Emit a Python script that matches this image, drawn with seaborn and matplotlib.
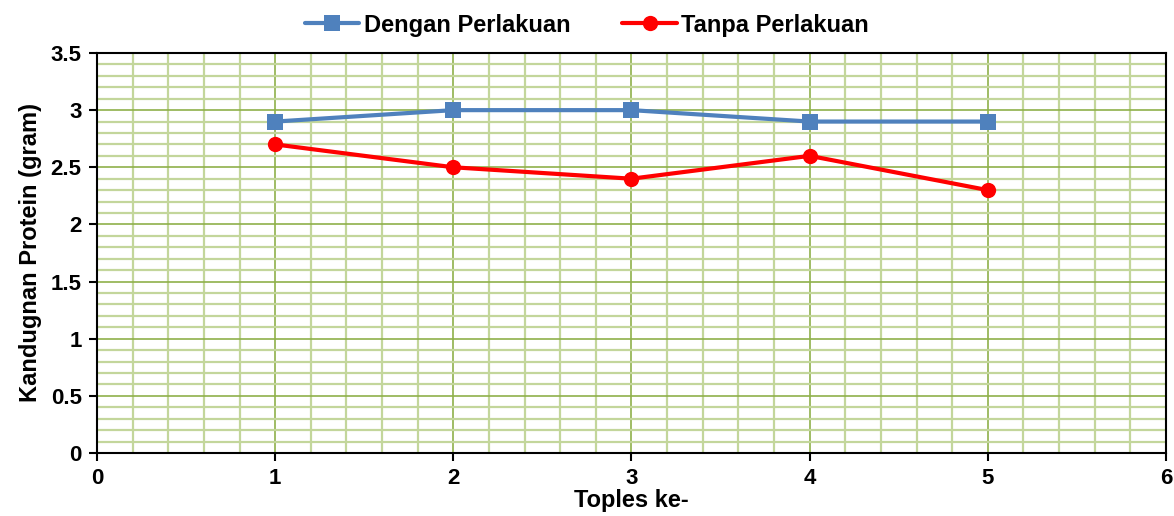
import matplotlib
matplotlib.use("Agg")
import matplotlib.pyplot as plt
import seaborn as sns
import pandas as pd
from matplotlib.ticker import FixedLocator

toples = [1, 2, 3, 4, 5]
dengan = [2.9, 3.0, 3.0, 2.9, 2.9]
tanpa = [2.7, 2.5, 2.4, 2.6, 2.3]
series_names = ["Dengan Perlakuan", "Tanpa Perlakuan"]
x_ticks = [0, 1, 2, 3, 4, 5, 6]
y_ticks = [0, 0.5, 1, 1.5, 2, 2.5, 3, 3.5]
y_tick_labels = ["0", "0.5", "1", "1.5", "2", "2.5", "3", "3.5"]

sns.set_theme(style="white")
plt.rcParams['font.family'] = ['Liberation Sans', 'DejaVu Sans']
plt.rcParams['font.weight'] = 'bold'
plt.rcParams['text.color'] = 'black'
plt.rcParams['axes.labelcolor'] = 'black'
plt.rcParams['xtick.color'] = 'black'
plt.rcParams['ytick.color'] = 'black'

df = pd.DataFrame({
    "x": toples * 2,
    "y": dengan + tanpa,
    "series": [series_names[0]] * len(toples) + [series_names[1]] * len(toples),
})

fig = plt.figure(figsize=(11.74, 5.16), dpi=100)
ax = fig.add_axes([0.0826, 0.1221, 0.9106, 0.7752])

sns.lineplot(data=df, x="x", y="y", hue="series", style="series",
             palette={series_names[0]: "#4f81bd", series_names[1]: "#ff0000"},
             markers={series_names[0]: "s", series_names[1]: "o"},
             dashes=False, markersize=11, linewidth=3.0, markeredgewidth=0,
             ax=ax, legend=True, zorder=5)

ax.set_xlim(0, 6)
ax.set_ylim(0, 3.5)
ax.set_xticks(x_ticks)
ax.set_xticklabels([str(v) for v in x_ticks])
ax.set_yticks(y_ticks)
ax.set_yticklabels(y_tick_labels)
minor_x = [i * 0.2 for i in range(31) if i % 5 != 0]
minor_y = [i * 0.1 for i in range(36) if i % 5 != 0]
ax.xaxis.set_minor_locator(FixedLocator(minor_x))
ax.yaxis.set_minor_locator(FixedLocator(minor_y))

ax.grid(which="minor", color="#c3d69b", linewidth=1.6)
ax.grid(which="major", color="#8fb04a", linewidth=1.2)
ax.set_axisbelow(True)

for s in ax.spines.values():
    s.set_color("black")
    s.set_linewidth(1.5)
    s.set_visible(True)

ax.tick_params(axis="both", which="major", direction="out", length=6, width=1.5,
               color="black", labelcolor="black", labelsize=16, pad=5)
ax.tick_params(axis="both", which="minor", length=0)
ax.tick_params(axis="x", bottom=True)
ax.tick_params(axis="y", left=True)
for lab in ax.get_xticklabels() + ax.get_yticklabels():
    lab.set_fontweight("bold")

ax.set_xlabel("Toples ke-", fontsize=17, fontweight="bold", labelpad=0, color="black")
ax.set_ylabel("Kandugnan Protein (gram)", fontsize=17, fontweight="bold", labelpad=6, color="black")

handles, labels = ax.get_legend_handles_labels()
ax.legend_.remove()
leg = fig.legend(handles, labels, loc="upper center", bbox_to_anchor=(0.5, 1.015),
                 ncol=2, frameon=False, fontsize=17, handlelength=2.3,
                 columnspacing=2.2, handletextpad=0.2, labelcolor="black")
for t in leg.get_texts():
    t.set_fontweight("bold")

fig.savefig("out.png", dpi=100)
